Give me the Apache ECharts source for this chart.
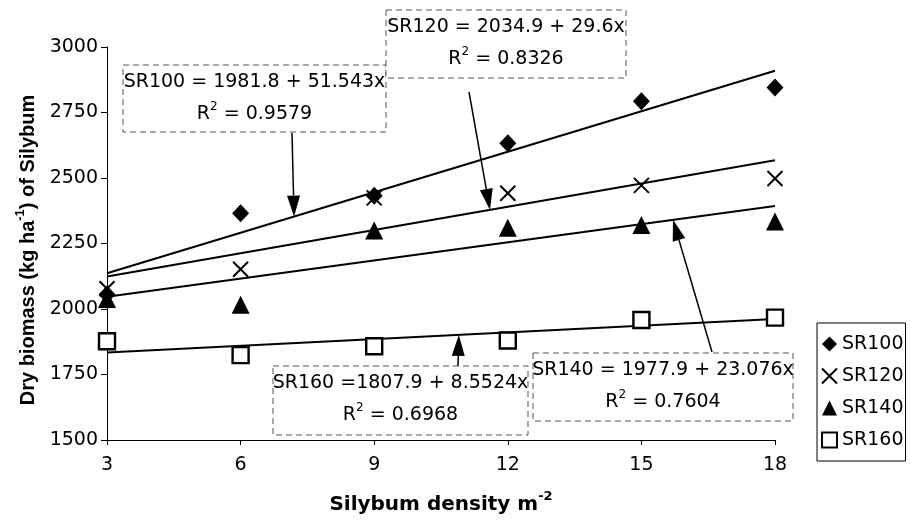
<!DOCTYPE html>
<html>
<head>
<meta charset="utf-8">
<script src="https://cdn.jsdelivr.net/npm/echarts@6/dist/echarts.min.js"></script>
<style>html,body{margin:0;padding:0;background:#fff}#c{width:910px;height:520px}</style>
</head>
<body>
<div id="c"></div>
<script>
// ---- data ----
const xTicks = [3, 6, 9, 12, 15, 18];
const seriesNames = ['SR100', 'SR120', 'SR140', 'SR160'];
const sr100 = [2055, 2365, 2432, 2633, 2793, 2845];
const sr120 = [2077, 2152, 2424, 2442, 2472, 2498];
const sr140 = [2038, 2016, 2300, 2310, 2321, 2334];
const sr160 = [1877, 1824, 1858, 1880, 1958, 1967];
const intercepts = [1981.8, 2034.9, 1977.9, 1807.9];
const slopes = [51.543, 29.6, 23.076, 8.5524];
const equations = ['SR100 = 1981.8 + 51.543x', 'SR120 = 2034.9 + 29.6x', 'SR140 = 1977.9 + 23.076x', 'SR160 =1807.9 + 8.5524x'];
const r2Values = ['0.9579', '0.8326', '0.7604', '0.6968'];
const arrowTargetX = [7.2, 11.6, 15.71, 10.9];

// ---- annotation layout (pixels) ----
const annBoxes = [[123, 65, 263, 67], [386, 10, 240, 68], [533, 353, 260, 68], [273, 366, 255, 69]];
const annTails = [[292, 133], [469, 92], [712, 352], [458, 366]];

const values = [sr100, sr120, sr140, sr160];
const FONT = 'DejaVu Sans';
const symbols = ['diamond', 'path://M0,0L10,10M10,0L0,10', 'triangle', 'rect'];
const symSizes = [[17, 18], 15, 18, 16];
const styles = [
  {color: '#000', opacity: 1},
  {color: 'rgba(0,0,0,0)', borderColor: '#000', borderWidth: 2, opacity: 1},
  {color: '#000', opacity: 1},
  {color: '#fff', borderColor: '#000', borderWidth: 2.4, opacity: 1}
];

const series = [];
seriesNames.forEach((n, i) => {
  series.push({
    name: n, type: 'scatter', symbol: symbols[i], symbolSize: symSizes[i],
    itemStyle: styles[i], z: 2 + i,
    data: xTicks.map((x, j) => [x, values[i][j]])
  });
});
seriesNames.forEach((n, i) => {
  const x0 = xTicks[0], x1 = xTicks[xTicks.length - 1];
  series.push({
    name: n + ' trend', type: 'line', silent: true, symbol: 'none', z: 1,
    lineStyle: {color: '#000', width: 2},
    data: [[x0, intercepts[i] + slopes[i] * x0], [x1, intercepts[i] + slopes[i] * x1]]
  });
});

const chart = echarts.init(document.getElementById('c'), null, {renderer: 'canvas'});
chart.setOption({
  animation: false,
  backgroundColor: '#fff',
  grid: {left: 107, right: 135, top: 47, bottom: 80},
  legend: {
    data: seriesNames, orient: 'vertical', left: 817, top: 323,
    borderColor: '#000', borderWidth: 1, borderRadius: 0,
    padding: [11, 2, 11, 4], itemGap: 12, itemWidth: 15, itemHeight: 15, itemTextGap: 2,
    textStyle: {fontFamily: FONT, fontSize: 19, color: '#000', lineHeight: 20}
  },
  xAxis: {
    type: 'value', min: 3, max: 18, interval: 3,
    name: 'Silybum density m{sup|-2}', nameLocation: 'middle', nameGap: 50,
    nameTextStyle: {fontFamily: FONT, fontSize: 20, fontWeight: 'bold', color: '#000',
      rich: {sup: {fontFamily: FONT, fontSize: 13, fontWeight: 'bold', color: '#000', verticalAlign: 'top', lineHeight: 30}}},
    axisLine: {lineStyle: {color: '#000', width: 1}},
    axisTick: {length: 5, lineStyle: {color: '#000'}},
    splitLine: {show: false},
    axisLabel: {fontFamily: FONT, fontSize: 19, color: '#000', margin: 16}
  },
  yAxis: {
    type: 'value', min: 1500, max: 3000, interval: 250,
    name: 'Dry biomass (kg ha{sup|-1}) of Silybum', nameLocation: 'middle', nameGap: 60,
    nameTextStyle: {fontFamily: 'Liberation Sans', fontSize: 20, fontWeight: 'bold', color: '#000', padding: [0, 13, 0, 0],
      rich: {sup: {fontFamily: 'Liberation Sans', fontSize: 13, fontWeight: 'bold', color: '#000', verticalAlign: 'top', lineHeight: 30}}},
    axisLine: {show: true, lineStyle: {color: '#000', width: 1}},
    axisTick: {show: true, length: 6, lineStyle: {color: '#000'}},
    splitLine: {show: false},
    axisLabel: {fontFamily: FONT, fontSize: 19, color: '#000', margin: 9, formatter: v => String(v)}
  },
  series: series
});

// ---- annotations: dashed boxes with equations and arrows to the trend lines ----
const graphics = [];
annBoxes.forEach((b, i) => {
  graphics.push({type: 'rect', shape: {x: b[0], y: b[1], width: b[2], height: b[3]}, z: 100,
    style: {fill: '#fff', stroke: '#555', lineWidth: 1, lineDash: [6, 4]}});
  const cx = b[0] + b[2] / 2;
  graphics.push({type: 'text', x: cx, y: b[1] + 17, z: 101,
    style: {text: equations[i], fontFamily: FONT, fontSize: 19, fill: '#000', align: 'center', verticalAlign: 'middle'}});
  graphics.push({type: 'text', x: cx, y: b[1] + 49, z: 101,
    style: {text: 'R{sup|2} = ' + r2Values[i], fontFamily: FONT, fontSize: 19, fill: '#000', align: 'center', verticalAlign: 'middle',
      rich: {sup: {fontFamily: FONT, fontSize: 12, fill: '#000', verticalAlign: 'top', lineHeight: 26}}}});
  const tx = arrowTargetX[i];
  const tip = chart.convertToPixel({xAxisIndex: 0, yAxisIndex: 0}, [tx, intercepts[i] + slopes[i] * tx]);
  const t = annTails[i];
  const dx = tip[0] - t[0], dy = tip[1] - t[1];
  const L = Math.sqrt(dx * dx + dy * dy), ux = dx / L, uy = dy / L;
  const hl = 21, hw = 6.5;
  const bx = tip[0] - ux * hl, by = tip[1] - uy * hl;
  graphics.push({type: 'line', z: 99, shape: {x1: t[0], y1: t[1], x2: bx, y2: by}, style: {stroke: '#000', lineWidth: 1.5}});
  graphics.push({type: 'polygon', z: 99, shape: {points: [[tip[0], tip[1]], [bx - uy * hw, by + ux * hw], [bx + uy * hw, by - ux * hw]]},
    style: {fill: '#000'}});
});
chart.setOption({graphic: graphics});
</script>
</body>
</html>
